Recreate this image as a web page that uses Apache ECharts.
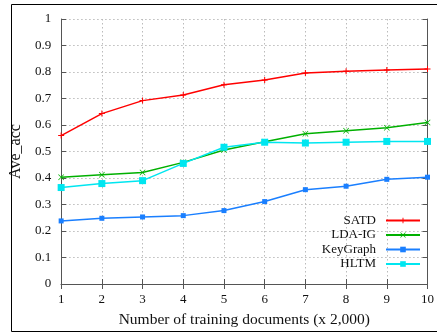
<!DOCTYPE html>
<html><head><meta charset="utf-8">
<script src="https://cdn.jsdelivr.net/npm/echarts@6/dist/echarts.min.js"></script>
<style>html,body{margin:0;padding:0;background:#fff}#c{width:437px;height:334px}</style>
</head><body><div id="c"></div>
<script>
const xValues = [1,2,3,4,5,6,7,8,9,10];
const satd = [0.56,0.643,0.692,0.713,0.752,0.770,0.796,0.803,0.808,0.811];
const ldaig = [0.403,0.412,0.421,0.459,0.506,0.537,0.567,0.578,0.590,0.609];
const keygraph = [0.238,0.248,0.253,0.258,0.277,0.311,0.356,0.369,0.395,0.403];
const hltm = [0.364,0.379,0.390,0.455,0.516,0.535,0.532,0.535,0.538,0.538];
const seriesNames = ['SATD','LDA-IG','KeyGraph','HLTM'];
const yTicks = [0,0.1,0.2,0.3,0.4,0.5,0.6,0.7,0.8,0.9,1];

const font = '"Liberation Serif","DejaVu Serif",serif';
const plus = 'path://M5,0 L7,0 L7,5 L12,5 L12,7 L7,7 L7,12 L5,12 L5,7 L0,7 L0,5 L5,5 Z';
const cross = 'path://M1,0 L6,5 L11,0 L12,1 L7,6 L12,11 L11,12 L6,7 L1,12 L0,11 L5,6 L0,1 Z';
function mk(name, data, color, symbol, size) {
  return {
    name, type: 'line', data: data.map((v,i)=>[xValues[i], v]),
    symbol, symbolSize: size, showSymbol: true,
    lineStyle: {color, width: 1.5}, itemStyle: {color},
    emphasis: {disabled: true}, animation: false
  };
}
const chart = echarts.init(document.getElementById('c'));
const axisLine = {show: true, lineStyle: {color: '#555', width: 1}};
chart.setOption({
  animation: false,
  graphic: [{type:'rect', shape:{x:11.5,y:4.5,width:440,height:327}, style:{fill:'none', stroke:'#000', lineWidth:1}, silent:true}],
  grid: {left: 61, right: 9, top: 19, bottom: 50},
  legend: {
    data: seriesNames, orient: 'vertical', right: 11, top: 209, align: 'right',
    itemWidth: 34, itemHeight: 7, itemGap: 1.5,
    textStyle: {fontFamily: font, fontSize: 13, color: '#111', padding: [0,5,0,0]}
  },
  xAxis: [{
    type: 'value', min: 1, max: 10, interval: 1,
    name: 'Number of training documents (x 2,000)', nameLocation: 'middle', nameGap: 28,
    nameTextStyle: {fontFamily: font, fontSize: 15.5, color: '#111'},
    axisLine, axisTick: {show: true, inside: true, length: 5, lineStyle:{color:'#555'}},
    axisLabel: {fontFamily: font, fontSize: 13, color: '#111', margin: 9},
    splitLine: {show: true, lineStyle: {type: [1.5,2.5], color: '#bbb'}}
  },{
    type: 'value', min: 1, max: 10, interval: 1, position: 'top',
    axisLine, axisTick: {show: true, inside: true, length: 5, lineStyle:{color:'#555'}},
    axisLabel: {show: false}, splitLine: {show: false}
  }],
  yAxis: [{
    type: 'value', min: 0, max: 1, interval: 0.1,
    name: 'Ave_acc', nameLocation: 'middle', nameGap: 36, nameRotate: 90,
    nameTextStyle: {fontFamily: font, fontSize: 16, color: '#111'},
    axisLine, axisTick: {show: true, inside: true, length: 5, lineStyle:{color:'#555'}},
    axisLabel: {fontFamily: font, fontSize: 13, color: '#111', margin: 10,
      formatter: v => { const t = yTicks.find(x => Math.abs(x - v) < 1e-6); return t === undefined ? '' : String(+t.toFixed(1)); }},
    splitLine: {show: true, lineStyle: {type: [1.5,2.5], color: '#bbb'}}
  },{
    type: 'value', min: 0, max: 1, interval: 0.1, position: 'right',
    axisLine, axisTick: {show: true, inside: true, length: 5, lineStyle:{color:'#555'}},
    axisLabel: {show: false}, splitLine: {show: false}
  }],
  series: [
    mk('SATD', satd, '#ff0000', plus, 6),
    mk('LDA-IG', ldaig, '#00b000', cross, 6),
    mk('KeyGraph', keygraph, '#1a7fff', 'rect', 5),
    mk('HLTM', hltm, '#00e6f0', 'rect', 7)
  ]
});
</script></body></html>
